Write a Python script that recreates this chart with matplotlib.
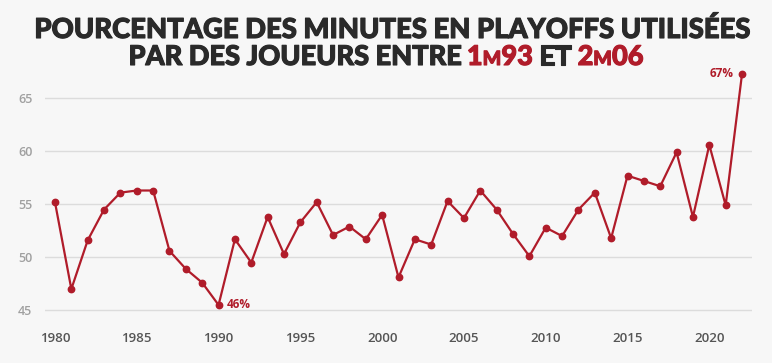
import matplotlib
matplotlib.use("Agg")
import matplotlib.pyplot as plt
import matplotlib.patheffects as pe

years = list(range(1980, 2023))
values = [55.2, 47.0, 51.6, 54.5, 56.1, 56.3, 56.3, 50.6, 48.9, 47.6,
          45.5, 51.7, 49.5, 53.8, 50.3, 53.3, 55.2, 52.1, 52.9, 51.7,
          54.0, 48.1, 51.7, 51.2, 55.3, 53.7, 56.3, 54.5, 52.2, 50.1,
          52.8, 52.0, 54.5, 56.1, 51.8, 57.7, 57.2, 56.7, 59.9, 53.8,
          60.6, 54.9, 67.3]
yticks = [45, 50, 55, 60, 65]
xticks = [1980, 1985, 1990, 1995, 2000, 2005, 2010, 2015, 2020]
title1 = "POURCENTAGE DES MINUTES EN PLAYOFFS UTILISÉES"
title2_parts = [("PAR DES JOUEURS ENTRE ", "dark", 1.0), ("1", "red", 1.0), ("M", "red", 0.72),
                ("93", "red", 1.0), (" ET ", "dark", 1.0), ("2", "red", 1.0), ("M", "red", 0.72),
                ("06", "red", 1.0)]
ann_min = "46%"
ann_max = "67%"

BG = "#f7f7f7"
RED = "#b01c2a"
DARK = "#2a2a2a"

W, H = 772, 363
fig = plt.figure(figsize=(W / 100, H / 100), dpi=100)
fig.patch.set_facecolor(BG)

ax = fig.add_axes([45 / W, 1 - 318 / H, 707 / W, (318 - 70) / H])
ax.set_facecolor(BG)
ax.plot(years, values, color=RED, lw=1.6, marker="o", ms=4.6, zorder=3)
ax.set_xlim(1979.39, 2022.61)
ax.set_ylim(44.27, 67.67)
ax.set_yticks(yticks)
ax.set_xticks(xticks)
ax.grid(axis="y", color="#dcdcdc", lw=1)
ax.set_axisbelow(True)
for s in ax.spines.values():
    s.set_visible(False)
ax.tick_params(length=0)
ax.tick_params(axis="y", pad=9, labelsize=9, labelcolor="#a0a0a0")
ax.tick_params(axis="x", pad=10, labelsize=9.5, labelcolor="#555555")
for lab in ax.get_yticklabels():
    lab.set_fontfamily("Open Sans")
    lab.set_fontweight("semibold")
for lab in ax.get_xticklabels():
    lab.set_fontfamily("Open Sans")
    lab.set_fontweight("semibold")

i_min = values.index(min(values))
i_max = values.index(max(values))
ax.annotate(ann_min, (years[i_min], values[i_min]), xytext=(6, 0), textcoords="offset points",
            ha="left", va="center", color=RED, fontsize=8.5, fontweight="bold", family="Open Sans")
ax.annotate(ann_max, (years[i_max], values[i_max]), xytext=(-6, 0), textcoords="offset points",
            ha="right", va="center", color=RED, fontsize=8.5, fontweight="bold", family="Open Sans")

# Title
TFONT = dict(family="Lato", fontweight="black")
renderer = fig.canvas.get_renderer()

def width_px(s, size):
    t = fig.text(0, 0, s, fontsize=size, **TFONT)
    w = t.get_window_extent(renderer).width
    t.remove()
    return w

def stroke(c):
    return [pe.withStroke(linewidth=0.8, foreground=c)]

target1 = 716
fs = 20 * target1 / width_px(title1, 20)
fig.text(392 / W, 1 - 38 / H, title1, fontsize=fs, color=DARK, ha="center", va="baseline",
         path_effects=stroke(DARK), **TFONT)

base_sizes = [20 * k for _, _, k in title2_parts]
base_w = sum(width_px(s, sz) for (s, _, _), sz in zip(title2_parts, base_sizes))
fs2 = 20 * 516 / base_w
sizes = [fs2 * k for _, _, k in title2_parts]
widths = [width_px(s, sz) for (s, _, _), sz in zip(title2_parts, sizes)]
total = sum(widths)
x = 386 - total / 2
ybase = 1 - 65 / H
for (s, c, k), sz, w in zip(title2_parts, sizes, widths):
    col = RED if c == "red" else DARK
    fig.text(x / W, ybase, s, fontsize=sz, color=col, ha="left", va="baseline",
             path_effects=stroke(col), **TFONT)
    x += w

fig.savefig("out.png", dpi=100, facecolor=BG)
